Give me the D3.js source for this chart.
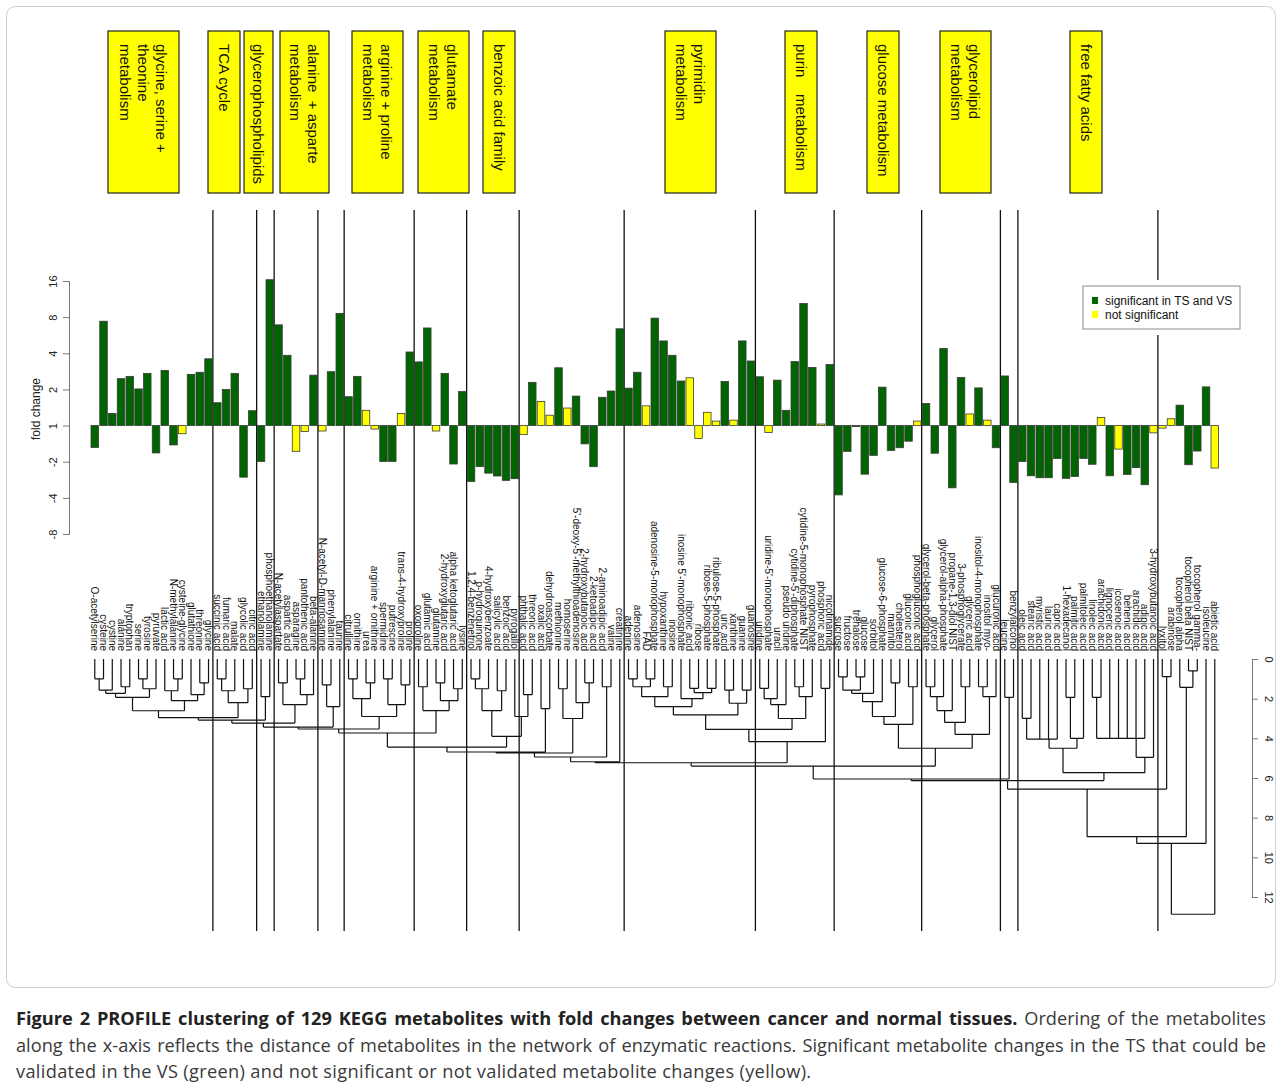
<!DOCTYPE html>
<html>
<head>
<meta charset="utf-8">
<script src="https://cdn.jsdelivr.net/npm/d3@7"></script>
<style>
  body { margin: 0; background: #fff; }
  #fig { position: relative; width: 1282px; height: 1088px; }
  #chart { position: absolute; left: 0; top: 0; }
  .caption {
    position: absolute; left: 16px; top: 1005px; width: 1250px;
    font-family: "Open Sans", sans-serif; font-size: 18.2px; line-height: 26.5px;
    color: #3a3a3a;
  }
  .caption .ln { white-space: nowrap; }
  .caption .j { text-align: justify; text-align-last: justify; }
  .caption .last { letter-spacing: 0.33px; }
  .caption b { color: #222; }
</style>
</head>
<body>
<div id="fig">
  <svg id="chart" width="1282" height="1000"></svg>
  <div class="caption">
    <div class="ln j"><b>Figure 2 PROFILE clustering of 129 KEGG metabolites with fold changes between cancer and normal tissues.</b> Ordering of the metabolites</div>
    <div class="ln j">along the x-axis reflects the distance of metabolites in the network of enzymatic reactions. Significant metabolite changes in the TS that could be</div>
    <div class="ln last">validated in the VS (green) and not significant or not validated metabolite changes (yellow).</div>
  </div>
</div>
<script>
// metabolites, in dendrogram order
const metabolites = [
  "O-acetylserine", "cysteine", "cystine", "alanine", "tryptophan", "serine", "tyrosine", "pyruvate",
  "lactic acid", "N-methylalanine", "cysteine-glycine", "glutathione", "threonine", "glycine",
  "succinic acid", "fumaric acid", "malate", "glycolic acid", "citric acid", "ethanolamine",
  "phosphoethanolamine", "N-acetylaspartate", "aspartic acid", "asparagine", "pantothenic acid",
  "beta-alanine", "N-acetyl-D-mannosamine", "phenylalanine", "taurine", "citrulline", "ornithine",
  "urea", "arginine + ornithine", "spermidine", "putrescine", "trans-4-hydroxyproline", "proline",
  "oxoproline", "glutamic acid", "glutamine", "2-hydroxyglutaric acid", "alpha ketoglutaric acid",
  "lysine", "1,2,4-benzenetriol", "p-hydroquinone", "4-hydroxybenzoate", "salicylic acid",
  "benzoic acid", "pyrogallol", "phthalic acid", "threonic acid", "oxalic acid", "dehydroascorbate",
  "methionine", "homoserine", "5'-deoxy-5'-methylthioadenosine", "2-hydroxybutanoic acid",
  "2-ketoadipic acid", "2-aminoadipic acid", "valine", "creatinine", "adenine", "adenosine", "FAD",
  "adenosine-5-monophosphate", "hypoxanthine", "inosine", "inosine 5'-monophosphate", "ribonic acid",
  "ribose", "ribose-5-phosphate", "ribulose-5-phosphate", "uric acid", "xanthine", "guanine",
  "guanosine", "uridine", "uridine-5'-monophosphate", "uracil", "pseudo uridine",
  "cytidine-5'-diphosphate", "cytidine-5-monophosphate NIST", "pyrophosphate", "phosphoric acid",
  "nicotinamide", "sucrose", "fructose", "trehalose", "glucose", "sorbitol", "glucose-6-phosphate",
  "mannitol", "cholesterol", "gluconic acid", "phosphogluconic acid", "glycerol-beta-phosphate",
  "glycerol", "glycerol-alpha-phosphate", "propane-1,3-diol NIST", "3-phosphoglycerate",
  "glyceric acid", "inositol-4-monophosphate", "inositol myo-", "glucuronic acid", "leucine",
  "benzylalcohol", "oleic acid", "stearic acid", "myristic acid", "lauric acid", "capric acid",
  "1-hexadecanol", "palmitic acid", "palmitoleic acid", "linoleic acid", "arachidonic acid",
  "lignoceric acid", "icosenoic acid", "behenic acid", "arachidic acid", "adipic acid",
  "3-hydroxybutanoic acid", "lyxitol", "arabinose", "tocopherol alpha", "tocopherol beta NIST",
  "tocopherol gamma-", "isoleucine", "abietic acid"
];

// fold change cancer / normal (negative = decrease, -2 means half)
const foldChange = [
  -1.52, 7.4, 1.26, 2.46, 2.57, 2.02, 2.72, -1.69, 2.88, -1.45,
  -1.17, 2.67, 2.78, 3.6, 1.55, 2.0, 2.72, -2.69, 1.33, -1.99,
  16.4, 6.9, 3.85, -1.64, -1.12, 2.63, -1.11, 2.81, 8.6, 1.74,
  2.57, 1.34, -1.07, -1.99, -1.99, 1.26, 4.1, 3.39, 6.5, -1.11,
  2.72, -2.09, 1.92, -2.92, -2.2, -2.49, -2.63, -2.86, -2.77, -1.19,
  2.29, 1.59, 1.22, 3.03, 1.4, 1.76, -1.42, -2.2, 1.72, 1.94,
  6.4, 2.05, 2.78, 1.46, 7.85, 5.07, 3.85, 2.35, 2.5, -1.28,
  1.29, 1.09, 2.33, 1.11, 5.07, 3.45, 2.55, -1.14, 2.39, 1.34,
  3.41, 10.4, 3.05, 1.03, 3.22, -3.78, -1.64, -1.02, -2.54, -1.77,
  2.09, -1.61, -1.53, -1.35, 1.09, 1.53, -1.7, 4.38, -3.3, 2.52,
  1.25, 2.06, 1.11, -1.53, 2.59, -2.98, -1.99, -2.62, -2.72, -2.72,
  -1.88, -2.75, -2.65, -1.88, -2.1, 1.17, -2.62, -1.57, -2.55, -2.24,
  -3.11, -1.15, -1.05, 1.14, 1.48, -2.12, -1.63, 2.1, -2.26
];

// 1 = significant in TS and VS, 0 = not significant
const significant = [
  1, 1, 1, 1, 1, 1, 1, 1, 1, 1,
  0, 1, 1, 1, 1, 1, 1, 1, 1, 1,
  1, 1, 1, 0, 0, 1, 0, 1, 1, 1,
  1, 0, 0, 1, 1, 0, 1, 1, 1, 0,
  1, 1, 1, 1, 1, 1, 1, 1, 1, 0,
  1, 0, 0, 1, 0, 1, 1, 1, 1, 1,
  1, 1, 1, 0, 1, 1, 1, 1, 0, 0,
  0, 0, 1, 0, 1, 1, 1, 0, 1, 1,
  1, 1, 1, 0, 1, 1, 1, 1, 1, 1,
  1, 1, 1, 1, 0, 1, 1, 1, 1, 1,
  0, 1, 0, 1, 1, 1, 1, 1, 1, 1,
  1, 1, 1, 1, 1, 0, 1, 0, 1, 1,
  1, 0, 0, 0, 1, 1, 1, 1, 0
];

const foldTicks = [-3, -2, -1, 0, 1, 2, 3, 4];
const foldTickLabels = ["-8", "-4", "-2", "1", "2", "4", "8", "16"];
const heightTicks = [0, 2, 4, 6, 8, 10, 12];

// pathway separators: a line after these metabolite numbers
const pathwayBreaks = [14, 19, 21, 26, 29, 37, 43, 49, 61, 76, 85, 95, 104, 106, 122];

const pathwayNames = [
  ["glycine, serine +", "theonine", "metabolism"],
  ["TCA cycle"],
  ["glycerophospholipids"],
  ["alanine  + asparte", "metabolism"],
  ["arginine + proline", "metabolism"],
  ["glutamate", "metabolism"],
  ["benzoic acid family"],
  ["pyrimidin", "metabolism"],
  ["purin    metabolism"],
  ["glucose metabolism"],
  ["glycerolipid", "metabolism"],
  ["free fatty acids"]
];

// clustering: [height, child, child], leaves = metabolite numbers
const glyCluster = [2.61,
  [1.93, [1.73, [1.57, [1.0, 1, 2], 3], [1.4, 4, 5]], [1.5, [1.0, 6, 7], 8]],
  [2.1, [1.6, 9, [1.0, 10, 11]], [1.8, 12, [1.2, 13, 14]]]];
const tcaCluster = [2.2, [1.6, [1.0, 15, 16], 17], [1.5, 18, 19]];
const alaCluster = [2.3, [1.2, 22, 23], [1.8, [1.0, 24, 25], 26]];
const pheCluster = [2.4, [1.3, 27, 28], 29];
const argCluster = [2.9, [2.0, [1.0, 30, 31], [1.2, 32, 33]], [2.3, [1.0, 34, 35], [1.3, 36, 37]]];
const gluCluster = [2.6, [1.4, 38, 39], [2.1, [1.2, 40, 41], [1.5, 42, 43]]];
const benzCluster = [3.9, [2.6, [1.5, [1.0, 44, 45], 46], [1.6, 47, 48]], [2.9, 49, [1.8, 50, 51]]];
const metCluster = [3.0, [1.5, 54, 55], [2.2, 56, [1.2, 57, 58]]];
const nucCluster = [4.17,
  [3.55,
    [2.82,
      [2.4, [1.9, [1.4, [1.0, 62, 63], [1.0, 64, 65]], [1.4, 66, 67]],
            [2.0, 68, [1.7, [1.48, 69, 70], [1.48, 71, 72]]]],
      [2.23, [1.57, 73, 74], [1.57, 75, 76]]],
    [3.0, [2.3, [2.0, [1.48, 77, 78], 79], 80], [1.9, [1.4, 81, 82], 83]]],
  [1.48, 84, 85]];
const sugarCluster = [4.5,
  [3.3, [2.9, [2.15, [1.73, [1.57, [0.9, 86, 87], [0.9, 88, 89]], 90], 91], [1.2, 92, 93]],
        [1.4, 94, 95]],
  [3.8, [3.2, [2.6, [1.9, [1.4, 96, 97], 98], 99], [1.4, 100, 101]], [1.9, [1.4, 102, 103], 104]]];
const fattyCluster = [5.73,
  [4.5, [4.04, [4.04, [4.04, [2.99, 107, 108], 109], 110], 111], [4.0, [1.93, 112, 113], 114]],
  [4.96, [4.0, [4.0, [4.0, [4.0, [4.0, [1.93, 115, 116], 117], 118], 119], 120], 121], 122]];

const tree =
[12.87,
  [9.3,
    [8.96,
      [6.56,
        [6.13,
          [6.05,
            [5.4,
              [5.23,
                [5.18,
                  [4.94,
                    [4.74,
                      [4.69,
                        [4.44,
                          [3.73,
                            [3.53,
                              [3.43,
                                [3.23,
                                  [3.08, [2.96, glyCluster, tcaCluster], [1.9, 20, 21]],
                                  alaCluster],
                                pheCluster],
                              argCluster],
                            gluCluster],
                          benzCluster],
                        [2.5, 52, 53]],
                      metCluster],
                    [1.4, 59, 60]],
                  61],
                nucCluster],
              sugarCluster],
            [1.93, 105, 106]],
          fattyCluster],
        [0.89, 123, 124]],
      [1.43, 125, [0.6, 126, 127]]],
    128],
  129];

const GREEN = "#006400";
const YELLOW = "#ffff00";
const FONT = "'Liberation Sans', Arial, Helvetica, sans-serif";

// layout
const BAR_LEFT = 90.4, STEP = 8.75;
const BASE_Y = 651;          // bottom end of metabolite labels
const LINE_TOP = 210, LINE_BOTTOM = 931;
const boxLeft = [108, 208, 244, 280, 352, 418, 483, 665, 785, 867, 940, 1070];
const boxRight = [179, 240, 273, 329, 403, 469, 515, 716, 817, 899, 991, 1102];

const svg = d3.select("#chart");

// figure frame
svg.append("rect")
  .attr("x", 6.5).attr("y", 6.5).attr("width", 1269).attr("height", 981)
  .attr("rx", 9).attr("fill", "none").attr("stroke", "#cfcfcf").attr("stroke-width", 1);

const x = d3.scaleBand()
  .domain(d3.range(metabolites.length))
  .range([BAR_LEFT, BAR_LEFT + STEP * metabolites.length])
  .paddingInner(0.14).paddingOuter(0.07);
const cx = i => x(i) + x.bandwidth() / 2;

const toLog = v => v > 0 ? Math.log2(v) : -Math.log2(-v);
const y = d3.scaleLinear().domain([-3, 4]).range([534, 281]);

// pathway separator lines (drawn first, legend covers one of them)
svg.append("g").selectAll("line")
  .data(pathwayBreaks)
  .join("line")
  .attr("x1", d => x(d) - x.step() * 0.07).attr("x2", d => x(d) - x.step() * 0.07)
  .attr("y1", LINE_TOP).attr("y2", LINE_BOTTOM)
  .attr("stroke", "#111").attr("stroke-width", 1.3);

// bars
svg.append("g").selectAll("rect")
  .data(foldChange)
  .join("rect")
  .attr("x", (d, i) => x(i))
  .attr("width", x.bandwidth())
  .attr("y", d => Math.min(y(toLog(d)), y(0)))
  .attr("height", d => Math.abs(y(toLog(d)) - y(0)))
  .attr("fill", (d, i) => significant[i] ? GREEN : YELLOW)
  .attr("stroke", "#3a3a3a").attr("stroke-width", 0.8);

// fold change axis
const yAxis = svg.append("g")
  .attr("transform", "translate(69,0)")
  .call(d3.axisLeft(y).tickValues(foldTicks).tickSize(6)
    .tickFormat((d, i) => foldTickLabels[i]));
yAxis.select(".domain").attr("stroke", "#777");
yAxis.selectAll(".tick line").attr("stroke", "#777");
yAxis.selectAll(".tick text")
  .attr("transform", "rotate(-90)")
  .attr("x", 0).attr("y", -12).attr("dy", 0)
  .attr("text-anchor", "middle")
  .style("font-family", FONT).style("font-size", "11px").attr("fill", "#222");

svg.append("text")
  .attr("transform", "translate(40,409) rotate(-90)")
  .attr("text-anchor", "middle")
  .style("font-family", FONT).style("font-size", "12px").attr("fill", "#222")
  .text("fold change");

// metabolite labels
svg.append("g").selectAll("text")
  .data(metabolites)
  .join("text")
  .attr("transform", (d, i) => `translate(${cx(i)},${BASE_Y}) rotate(90)`)
  .attr("text-anchor", "end").attr("dy", "0.35em")
  .style("font-family", FONT).style("font-size", "10px").attr("fill", "#111")
  .text(d => d);

// dendrogram
const h = d3.scaleLinear().domain([0, 12]).range([659, 897]);
const root = d3.hierarchy(tree, d => Array.isArray(d) ? d.slice(1) : null);
root.eachAfter(n => {
  if (n.children) {
    n.hx = (n.children[0].hx + n.children[n.children.length - 1].hx) / 2;
    n.hh = n.data[0];
  } else {
    n.hx = cx(n.data - 1);
    n.hh = 0;
  }
});
const dPath = d3.path();
root.each(n => {
  if (!n.children) return;
  const yy = h(n.hh);
  dPath.moveTo(n.children[0].hx, yy);
  dPath.lineTo(n.children[n.children.length - 1].hx, yy);
  n.children.forEach(c => {
    dPath.moveTo(c.hx, h(c.hh));
    dPath.lineTo(c.hx, yy);
  });
});
svg.append("path").attr("d", dPath.toString())
  .attr("fill", "none").attr("stroke", "#111").attr("stroke-width", 1.2);

const hAxis = svg.append("g")
  .attr("transform", "translate(1252,0)")
  .call(d3.axisRight(h).tickValues(heightTicks).tickSize(6));
hAxis.select(".domain").attr("stroke", "#777");
hAxis.selectAll(".tick line").attr("stroke", "#777");
hAxis.selectAll(".tick text")
  .attr("transform", "rotate(90)")
  .attr("x", 0).attr("y", -13).attr("dy", 0)
  .attr("text-anchor", "middle")
  .style("font-family", FONT).style("font-size", "11px").attr("fill", "#222");

// pathway boxes
const boxes = svg.append("g").selectAll("g")
  .data(pathwayNames)
  .join("g");
boxes.append("rect")
  .attr("x", (d, i) => boxLeft[i]).attr("y", 31)
  .attr("width", (d, i) => boxRight[i] - boxLeft[i]).attr("height", 162)
  .attr("fill", YELLOW).attr("stroke", "#222").attr("stroke-width", 1.2);
boxes.each(function (lines, i) {
  const mid = (boxLeft[i] + boxRight[i]) / 2;
  d3.select(this).selectAll("text")
    .data(lines)
    .join("text")
    .attr("transform", (t, k) =>
      `translate(${mid - 5.5 + ((lines.length - 1) / 2 - k) * 18},44) rotate(90)`)
    .attr("text-anchor", "start")
    .style("font-family", FONT).style("font-size", "15px").attr("fill", "#111")
    .style("white-space", "pre")
    .text(t => t);
});

// legend
const legend = svg.append("g").attr("transform", "translate(1083,286)");
legend.append("rect").attr("x", 0).attr("y", -6).attr("width", 157).attr("height", 55)
  .attr("fill", "#fff");
legend.append("rect").attr("width", 157).attr("height", 43)
  .attr("fill", "#fff").attr("stroke", "#8a8a8a").attr("stroke-width", 1);
[["significant in TS and VS", GREEN], ["not significant", YELLOW]].forEach(([label, col], k) => {
  legend.append("rect").attr("x", 9).attr("y", 11 + k * 14).attr("width", 6).attr("height", 7)
    .attr("fill", col);
  legend.append("text").attr("x", 22).attr("y", 19 + k * 14)
    .style("font-family", FONT).style("font-size", "12px").attr("fill", "#111")
    .text(label);
});
</script>
</body>
</html>
